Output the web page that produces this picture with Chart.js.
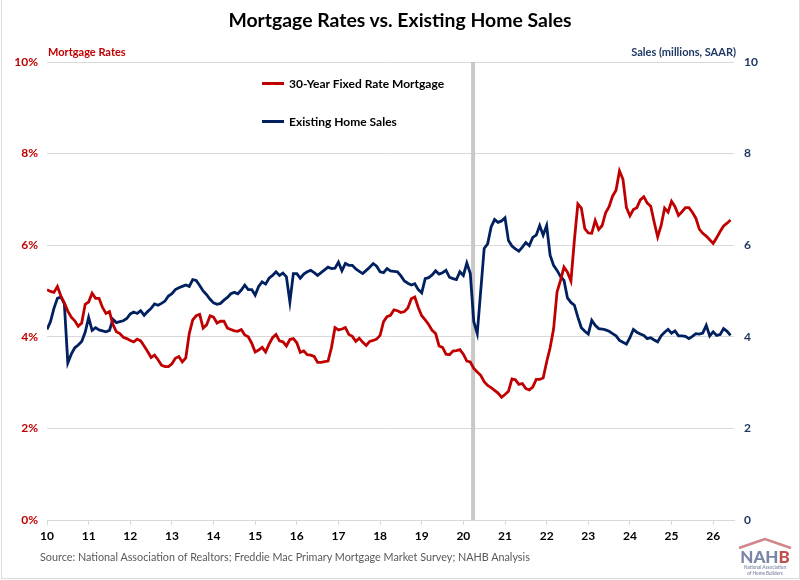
<!DOCTYPE html>
<html>
<head>
<meta charset="utf-8">
<script src="https://cdn.jsdelivr.net/npm/chart.js@4"></script>
<style>
  html, body { margin:0; padding:0; background:#fff; }
  #wrap { position:relative; width:800px; height:580px; font-family:Lato, "Open Sans", sans-serif; }
  #wrap canvas { position:absolute; left:0; top:0; }
  #frame { position:absolute; left:1px; top:-1px; width:797px; height:578px; border:1px solid #dcdcdc; pointer-events:none; }
  .txt { position:absolute; white-space:nowrap; }
  #title { left:0; width:800px; top:8px; text-align:center; font-size:19.4px; font-weight:700; color:#000; }
  #lAxis { left:48px; top:45px; font-size:11px; font-weight:700; color:#c00000; }
  #rAxis { right:64px; top:45px; font-size:11px; font-weight:700; color:#1f3864; }
  .leg { left:262px; font-size:12px; font-weight:700; color:#000; }
  .leg i { display:inline-block; width:22px; height:3px; vertical-align:middle; margin-right:5px; position:relative; top:-1px; }
  #source { left:40px; top:550px; font-size:10.8px; color:#595959; }
  #logo { position:absolute; left:736px; top:536px; }
</style>
</head>
<body>
<div id="wrap">
  <canvas id="chart" width="800" height="580"></canvas>
  <div id="frame"></div>
  <div class="txt" id="title">Mortgage Rates vs. Existing Home Sales</div>
  <div class="txt" id="lAxis">Mortgage Rates</div>
  <div class="txt" id="rAxis">Sales (millions, SAAR)</div>
  <div class="txt leg" style="top:76px"><i style="background:#c00000"></i>30-Year Fixed Rate Mortgage</div>
  <div class="txt leg" style="top:114px"><i style="background:#002060"></i>Existing Home Sales</div>
  <div class="txt" id="source">Source: National Association of Realtors; Freddie Mac Primary Mortgage Market Survey; NAHB Analysis</div>
  <svg id="logo" width="58" height="40" viewBox="0 0 58 40">
    <polyline points="3,12 29,3 55,12" fill="none" stroke="#d0868a" stroke-width="2.5"/>
    <text x="29" y="27" text-anchor="middle" font-family="Lato, sans-serif" font-weight="900" font-size="17" fill="#7b86a6">NAH<tspan fill="#c0504d">B</tspan></text>
    <text x="29" y="33" text-anchor="middle" font-family="Lato, sans-serif" font-weight="700" font-size="4.6" fill="#8a93ad">National Association</text>
    <text x="29" y="38.5" text-anchor="middle" font-family="Lato, sans-serif" font-weight="700" font-size="4.6" fill="#8a93ad">of Home Builders</text>
  </svg>
</div>
<script>
// ======================
// DATA (monthly, Jan 2010 onward)
// ======================
const yearLabels = ["10","11","12","13","14","15","16","17","18","19","20","21","22","23","24","25","26"];

// 30-year fixed rate mortgage, %
const mortgageRate = [
  5.03,4.99,4.97,5.10,4.89,4.74,4.56,4.43,4.35,4.23,4.30,4.71,
  4.76,4.95,4.84,4.84,4.64,4.51,4.55,4.27,4.11,4.07,3.99,3.96,
  3.92,3.89,3.95,3.91,3.80,3.68,3.55,3.60,3.50,3.38,3.35,3.35,
  3.41,3.53,3.57,3.45,3.54,4.07,4.37,4.46,4.49,4.19,4.26,4.46,
  4.43,4.30,4.34,4.34,4.19,4.16,4.13,4.12,4.16,4.04,4.00,3.86,
  3.67,3.71,3.77,3.67,3.84,3.98,4.05,3.91,3.89,3.80,3.94,3.96,
  3.87,3.66,3.69,3.61,3.60,3.57,3.44,3.44,3.46,3.47,3.77,4.20,
  4.15,4.17,4.20,4.05,4.01,3.90,3.97,3.88,3.81,3.90,3.92,3.95,
  4.03,4.33,4.44,4.47,4.59,4.57,4.53,4.55,4.63,4.83,4.87,4.64,
  4.46,4.37,4.27,4.14,4.07,3.80,3.77,3.62,3.61,3.69,3.70,3.72,
  3.62,3.47,3.45,3.31,3.23,3.16,3.02,2.94,2.89,2.83,2.77,2.68,
  2.74,2.81,3.08,3.06,2.96,2.98,2.87,2.84,2.90,3.07,3.07,3.10,
  3.45,3.76,4.17,4.98,5.23,5.52,5.41,5.22,6.11,6.90,6.81,6.36,
  6.27,6.26,6.54,6.34,6.43,6.71,6.84,7.07,7.20,7.62,7.44,6.82,
  6.64,6.78,6.82,6.99,7.06,6.92,6.85,6.50,6.18,6.43,6.81,6.72,
  6.96,6.84,6.65,6.73,6.82,6.82,6.72,6.59,6.35,6.26,6.20,6.12,
  6.04,6.16,6.30,6.42,6.48,6.55
];

// existing home sales, millions SAAR
const homeSales = [
  4.16,4.33,4.62,4.84,4.87,4.72,3.43,3.62,3.76,3.82,3.90,4.10,
  4.42,4.14,4.20,4.15,4.13,4.11,4.14,4.38,4.31,4.33,4.35,4.40,
  4.50,4.54,4.51,4.57,4.47,4.55,4.62,4.72,4.69,4.73,4.78,4.89,
  4.94,5.03,5.07,5.10,5.13,5.10,5.25,5.23,5.12,5.00,4.92,4.82,
  4.74,4.71,4.73,4.80,4.86,4.94,4.97,4.94,5.02,5.13,5.03,5.03,
  4.91,5.10,5.20,5.15,5.28,5.34,5.42,5.34,5.39,5.31,4.76,5.38,
  5.38,5.28,5.37,5.42,5.45,5.40,5.34,5.40,5.46,5.52,5.49,5.50,
  5.63,5.44,5.60,5.56,5.56,5.48,5.43,5.38,5.45,5.52,5.60,5.54,
  5.42,5.40,5.49,5.44,5.43,5.42,5.33,5.22,5.17,5.13,5.16,5.03,
  4.96,5.27,5.29,5.35,5.44,5.37,5.40,5.45,5.30,5.27,5.25,5.42,
  5.34,5.61,5.38,4.33,4.07,5.00,5.93,6.03,6.40,6.56,6.50,6.53,
  6.60,6.10,5.98,5.92,5.87,5.96,6.06,5.99,6.17,6.22,6.43,6.22,
  6.43,5.78,5.56,5.45,5.32,5.23,4.85,4.75,4.69,4.43,4.20,4.12,
  4.06,4.36,4.25,4.18,4.17,4.15,4.12,4.07,4.02,3.92,3.88,3.84,
  3.98,4.16,4.10,4.06,4.03,3.96,3.98,3.93,3.89,4.02,4.10,4.16,
  4.08,4.13,4.02,4.02,4.01,3.96,4.01,4.07,4.06,4.08,4.25,4.02,
  4.11,4.03,4.05,4.18,4.12,4.03
];

// month index of the gray marker (March 2020)
const markerMonth = 122.8;

const toPoints = arr => arr.map((v, i) => ({ x: i, y: v }));

// ======================
// CHART
// ======================
const RED = "#c00000", NAVY = "#002060", GRID = "#d9d9d9";
const tickFont = { family: "Lato, 'Open Sans', sans-serif", size: 12, weight: "bold" };

new Chart(document.getElementById("chart"), {
  type: "line",
  data: {
    datasets: [
      { label: "marker", data: [{ x: markerMonth, y: 0 }, { x: markerMonth, y: 10 }], yAxisID: "y",
        borderColor: "#c8c8c8", borderWidth: 4, pointRadius: 0, order: 3 },
      { label: "30-Year Fixed Rate Mortgage", data: toPoints(mortgageRate), yAxisID: "y",
        borderColor: RED, borderWidth: 2.8, pointRadius: 0, tension: 0, order: 1 },
      { label: "Existing Home Sales", data: toPoints(homeSales), yAxisID: "y1",
        borderColor: NAVY, borderWidth: 2.8, pointRadius: 0, tension: 0, order: 2 }
    ]
  },
  options: {
    responsive: false,
    animation: false,
    layout: { padding: { top: 62, left: 0, right: 0, bottom: 0 } },
    plugins: { legend: { display: false }, tooltip: { enabled: false } },
    scales: {
      x: {
        type: "linear", min: 0, max: 198,
        afterFit: s => { s.height = 60; },
        afterBuildTicks: s => { s.ticks = yearLabels.map((_, i) => ({ value: i * 12 })); },
        grid: { drawOnChartArea: false, drawTicks: true, tickLength: 5, color: GRID },
        border: { color: GRID },
        ticks: { color: "#000", font: tickFont, padding: 4, maxRotation: 0,
                 callback: v => yearLabels[v / 12] }
      },
      y: {
        position: "left", min: 0, max: 10,
        afterFit: s => { s.width = 47; },
        grid: { color: GRID, drawTicks: false },
        border: { display: false },
        ticks: { stepSize: 2, color: RED, font: tickFont, padding: 9, callback: v => v + "%" }
      },
      y1: {
        position: "right", min: 0, max: 10,
        afterFit: s => { s.width = 66; },
        grid: { drawOnChartArea: false, drawTicks: false },
        border: { display: false },
        ticks: { stepSize: 2, color: "#1f3864", font: tickFont, padding: 10 }
      }
    }
  }
});
</script>
</body>
</html>
